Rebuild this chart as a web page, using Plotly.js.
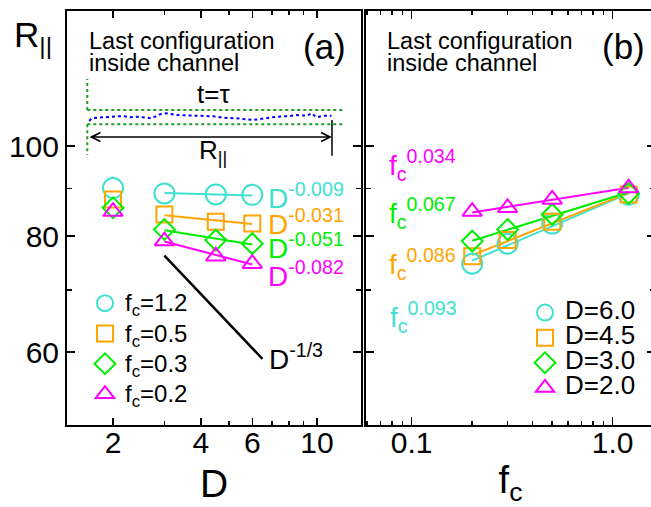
<!DOCTYPE html>
<html>
<head>
<meta charset="utf-8">
<script src="https://cdn.plot.ly/plotly-3.0.1.min.js"></script>
<style>html,body{margin:0;padding:0;overflow:hidden;background:#fff;}#chart{width:656px;height:507px;}</style>
</head>
<body>
<div id="chart"></div>
<script>
// ---- data ----
const dValues = [2, 3, 4.5, 6];
const fcValues = [1.2, 0.5, 0.3, 0.2];
// R|| for each f_c (rows) at D = 2, 3, 4.5, 6
const R_fc12 = [90.1, 88.9, 88.7, 88.6];
const R_fc05 = [87.6, 84.4, 82.9, 82.5];
const R_fc03 = [85.8, 81.3, 79.2, 78.5];
const R_fc02 = [85.0, 79.0, 76.1, 74.7];
const expD = [-0.009, -0.031, -0.051, -0.082];      // per f_c row
const expFcLabels = ['0.093', '0.086', '0.067', '0.034']; // D=6, 4.5, 3, 2
const guideD = [3, 6.5];
const guideR = [76.2, 59.0];
// schematic chain in the inset (s along channel, h across channel, walls at h=±1)
const chainS = [0.005,0.015,0.036,0.077,0.118,0.145,0.172,0.199,0.240,0.261,0.295,0.322,0.363,0.418,0.473,0.514,0.554,0.609,0.677,0.718,0.773,0.828,0.855,0.896,0.916,0.937,0.964,0.998];
const chainH = [-0.54,-0.16,-0.08,0.02,0.12,0.16,-0.02,0.06,-0.08,-0.16,0.40,0.54,0.30,0.20,0.16,0.12,-0.08,-0.16,-0.40,-0.16,0.06,0.16,0.30,0.20,0.54,-0.02,0.20,0.20];

// ---- styles ----
const FONT = 'Liberation Sans, Arial, Helvetica, sans-serif';
const rows = [R_fc12, R_fc05, R_fc03, R_fc02];
const fcColors = ['#40e0d0', '#ffa500', '#00ee00', '#ff00ff'];
const fcSymbols = ['circle-open', 'square-open', 'diamond-open', 'triangle-up-open'];
const fcSizes = [20, 16, 16, 17];
// right panel series: D = 6, 4.5, 3, 2
const dOrderIdx = [3, 2, 1, 0];
const dColors = ['#40e0d0', '#ffa500', '#00ee00', '#ff00ff'];
const dSymbols = ['circle-open', 'square-open', 'diamond-open', 'triangle-up-open'];
const dLabels = ['6.0', '4.5', '3.0', '2.0'];

function fitLine(xs, ys, b) {
  let s = 0;
  for (let i = 0; i < xs.length; i++) s += Math.log10(ys[i]) - b * Math.log10(xs[i]);
  const a = s / xs.length;
  const x0 = Math.min(...xs), x1 = Math.max(...xs);
  return { x: [x0, x1], y: [Math.pow(10, a + b * Math.log10(x0)), Math.pow(10, a + b * Math.log10(x1))] };
}

const traces = [];
// left panel: markers
rows.forEach((r, i) => {
  traces.push({
    x: dValues, y: r, xaxis: 'x', yaxis: 'y', mode: 'markers', type: 'scatter',
    name: '<span style="font-size:24px">f<sub>c</sub>=' + fcValues[i] + '</span>',
    legend: 'legend',
    marker: { symbol: fcSymbols[i], size: fcSizes[i], color: fcColors[i], line: { width: 2, color: fcColors[i] } },
    hoverinfo: 'x+y'
  });
});
// left panel fit lines over D >= 3
rows.forEach((r, i) => {
  const f = fitLine(dValues.slice(1), r.slice(1), expD[i]);
  traces.push({ x: f.x, y: f.y, xaxis: 'x', yaxis: 'y', mode: 'lines', type: 'scatter', showlegend: false,
    line: { color: fcColors[i], width: 2 }, hoverinfo: 'skip' });
});
// guide D^-1/3
traces.push({ x: guideD, y: guideR, xaxis: 'x', yaxis: 'y', mode: 'lines', showlegend: false,
  line: { color: '#000', width: 2.5 }, hoverinfo: 'skip' });

// right panel: R vs f_c for each D
const fcAsc = fcValues.slice().reverse();
dOrderIdx.forEach((di, k) => {
  const ys = rows.map(r => r[di]).reverse();
  const b = parseFloat(expFcLabels[k]);
  const f = fitLine(fcAsc, ys, b);
  traces.push({ x: f.x, y: f.y, xaxis: 'x2', yaxis: 'y2', mode: 'lines', showlegend: false,
    line: { color: dColors[k], width: 2 }, hoverinfo: 'skip' });
});
dOrderIdx.forEach((di, k) => {
  const ys = rows.map(r => r[di]).reverse();
  traces.push({
    x: fcAsc, y: ys, xaxis: 'x2', yaxis: 'y2', mode: 'markers', type: 'scatter',
    name: '<span style="font-size:26px">D=' + dLabels[k] + '</span>',
    legend: 'legend2',
    marker: { symbol: dSymbols[k], size: fcSizes[k], color: dColors[k], line: { width: 2, color: dColors[k] } }
  });
});
// inset chain
traces.push({ x: chainS, y: chainH, xaxis: 'x3', yaxis: 'y3', mode: 'lines', showlegend: false,
  line: { color: '#0000ff', width: 2, dash: 'dot' }, hoverinfo: 'skip' });

// ---- geometry ----
const W = 656, H = 507, ML = 67, MR = 1, MT = 11, MB = 82;
const PW = W - ML - MR, PH = H - MT - MB;
const px = x => (x - ML) / PW;
const py = y => (H - MB - y) / PH;

const axBase = {
  type: 'log', showline: true, linecolor: '#000', linewidth: 2, mirror: 'allticks',
  ticks: 'inside', tickcolor: '#000', tickwidth: 1.5, showgrid: false, zeroline: false,
  tickfont: { family: FONT, size: 30, color: '#000' }, tickmode: 'array'
};
const yTickVals = [60, 80, 100];
const yMinor = { tickmode: 'array', tickvals: [50, 70, 90], ticks: 'inside', ticklen: 5, tickwidth: 1.5, tickcolor: '#000' };

const txt = (text, x, y, size, color, xa, ya, extra) => Object.assign({
  text, x: px(x), y: py(y), xref: 'paper', yref: 'paper', showarrow: false,
  xanchor: xa || 'left', yanchor: ya || 'middle', borderpad: 0,
  font: { family: FONT, size, color: color || '#000' }
}, extra || {});

const annotations = [
  txt('R<sub>||</sub>', 13, 37, 35, '#000'),
  txt('(a)', 324, 46, 35, '#000', 'center'),
  txt('(b)', 623, 46, 35, '#000', 'center'),
  txt('Last configuration', 88, 41, 23.5),
  txt('inside channel', 88, 63, 23.5),
  txt('Last configuration', 386, 41, 23.5),
  txt('inside channel', 386, 63, 23.5),
  txt('t=τ', 213, 94, 26, '#000', 'center'),
  txt('R<sub>||</sub>', 213, 152, 26, '#000', 'center'),
  // exponents, left panel
  txt('D<sup>-0.009</sup>', 267, 196, 28, fcColors[0]),
  txt('D<sup>-0.031</sup>', 267, 222, 28, fcColors[1]),
  txt('D<sup>-0.051</sup>', 267, 246, 28, fcColors[2]),
  txt('D<sup>-0.082</sup>', 267, 274, 28, fcColors[3]),
  txt('D<sup>-1/3</sup>', 268, 357, 28, '#000'),
  // exponents, right panel
  txt('f<sub>c</sub><sup>' + expFcLabels[3] + '</sup>', 388, 165, 28, dColors[3]),
  txt('f<sub>c</sub><sup>' + expFcLabels[2] + '</sup>', 388, 213, 28, dColors[2]),
  txt('f<sub>c</sub><sup>' + expFcLabels[1] + '</sup>', 388, 264, 28, dColors[1]),
  txt('f<sub>c</sub><sup>' + expFcLabels[0] + '</sup>', 389, 317, 28, dColors[0]),
  // R|| arrow in inset
  { x: 1, y: -2.78, ax: 0, ay: -2.78, xref: 'x3', yref: 'y3', axref: 'x3', ayref: 'y3', text: '',
    showarrow: true, arrowhead: 5, startarrowhead: 5, arrowside: 'end+start', arrowsize: 1.1, startarrowsize: 1.1,
    arrowwidth: 1.6, arrowcolor: '#000' }
];

const wall = { color: '#1e9e1e', width: 2, dash: 'dot' };
const shapes = [
  { type: 'line', xref: 'x3', yref: 'y3', x0: -0.003, x1: 1.053, y0: 1, y1: 1, line: wall },
  { type: 'line', xref: 'x3', yref: 'y3', x0: -0.003, x1: 1.053, y0: -1, y1: -1, line: wall },
  { type: 'line', xref: 'x3', yref: 'y3', x0: -0.003, x1: -0.003, y0: 1, y1: 5.34, line: wall },
  { type: 'line', xref: 'x3', yref: 'y3', x0: -0.003, x1: -0.003, y0: -1, y1: -5.29, line: wall },
  { type: 'line', xref: 'x3', yref: 'y3', x0: 1.0, x1: 1.0, y0: -0.4, y1: -5.4, line: { color: '#000', width: 1.5 } }
];

const layout = {
  width: W, height: H,
  margin: { l: ML, r: MR, t: MT, b: MB, pad: 0 },
  paper_bgcolor: '#fff', plot_bgcolor: 'rgba(0,0,0,0)',
  font: { family: FONT, color: '#000' },
  showlegend: true,
  xaxis: Object.assign({}, axBase, {
    domain: [0, px(361)], range: [0.1434, 1.1506], anchor: 'y',
    tickvals: [2, 4, 6, 10], ticktext: ['2', '4', '6', '10'], ticklen: 7, ticklabelstandoff: -10,
    minor: { tickmode: 'array', tickvals: [3, 5, 7, 8, 9], ticks: 'inside', ticklen: 4, tickwidth: 1.5, tickcolor: '#000' },
    title: { text: 'D', font: { family: FONT, size: 39, color: '#000' }, standoff: 12 }
  }),
  yaxis: Object.assign({}, axBase, {
    domain: [0, 1], range: [1.6997, 2.1453], anchor: 'x',
    tickvals: yTickVals, ticktext: ['60', '80', '100'], ticklen: 8, minor: yMinor
  }),
  xaxis2: Object.assign({}, axBase, {
    domain: [px(366), 1], range: [-1.2274, 0.2104], anchor: 'y2',
    tickvals: [0.1, 1], ticktext: ['0.1', '1.0'], ticklen: 8, ticklabelstandoff: -10,
    minor: { tickmode: 'array', tickvals: [0.06, 0.07, 0.08, 0.09, 0.2, 0.3, 0.4, 0.5, 0.6, 0.7, 0.8, 0.9], ticks: 'inside', ticklen: 4, tickwidth: 1.5, tickcolor: '#000' },
    title: { text: 'f<sub>c</sub>', font: { family: FONT, size: 38, color: '#000' }, standoff: 8 }
  }),
  yaxis2: Object.assign({}, axBase, {
    domain: [0, 1], range: [1.6997, 2.1453], anchor: 'x2',
    tickvals: yTickVals, showticklabels: false, ticklen: 8, minor: yMinor
  }),
  xaxis3: { overlaying: 'x', range: [-0.0861, 1.1189], visible: false, fixedrange: true },
  yaxis3: { overlaying: 'y', range: [-43.06, 14.85], visible: false, fixedrange: true },
  legend: {
    x: px(85), y: py(283), xanchor: 'left', yanchor: 'top', bgcolor: 'rgba(0,0,0,0)', borderwidth: 0,
    font: { family: FONT, size: 21, color: '#000' }, itemwidth: 30, tracegroupgap: 0
  },
  legend2: {
    x: px(525), y: py(295), xanchor: 'left', yanchor: 'top', bgcolor: 'rgba(0,0,0,0)', borderwidth: 0,
    font: { family: FONT, size: 17, color: '#000' }, itemwidth: 30, tracegroupgap: 0
  },
  annotations, shapes
};

Plotly.newPlot('chart', traces, layout, { displayModeBar: false, staticPlot: true });
</script>
</body>
</html>
